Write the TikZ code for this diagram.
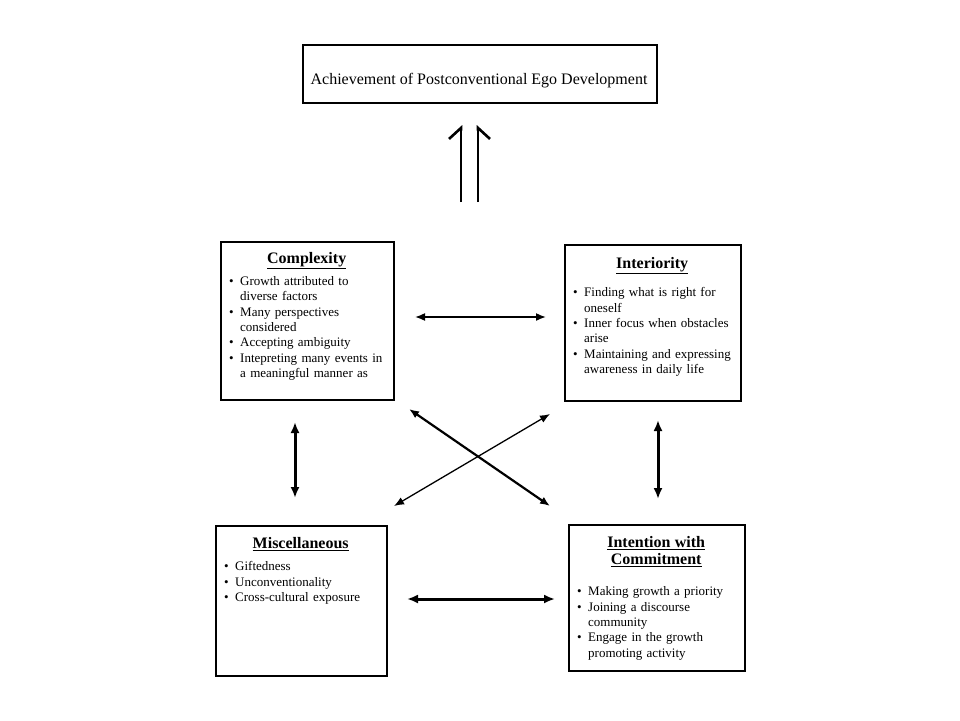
\documentclass[tikz,border=0pt]{standalone}
\usepackage{fontspec}
\setmainfont{Liberation Serif}
\usepackage{tikz}
\usetikzlibrary{arrows.meta}
\usetikzlibrary{positioning}
\usetikzlibrary{calc}

\tikzstyle{box} = [draw, line width=2pt, inner sep=0pt, anchor=north west]
\tikzstyle{boxtext} = [anchor=north west, inner sep=0pt, align=left, font=\fontsize{13}{15.4}\selectfont]
\tikzstyle{link} = [line width=1.6pt, {Latex[length=10pt,width=8pt]}-{Latex[length=10pt,width=8pt]}]
\tikzstyle{thicklink} = [line width=3pt, {Latex[length=11pt,width=9pt]}-{Latex[length=11pt,width=9pt]}]
\tikzstyle{uplink} = [line width=2.6pt]

\newcommand{\heading}[2]{{\centering\fontsize{16}{17.6}\selectfont\bfseries #1\par}\vspace{#2}}
\newcommand{\bitem}[1]{\par\hangindent=11pt\hangafter=1\noindent\makebox[11pt][l]{\textbullet}#1}

\begin{document}
\begin{tikzpicture}[x=1pt, y=-1pt]
\useasboundingbox (0,0) rectangle (960,720);

% boxes
\node[box, minimum width=354, minimum height=58] (goal) at (302,44) {};
\node[anchor=base, inner sep=0pt, font=\fontsize{16}{18}\selectfont] (goaltxt) at (479,84)
  {Achievement of Postconventional Ego Development};

\node[box, minimum width=173, minimum height=158] (cplx) at (220,241) {};
\node[boxtext, text width=155] (cplxtxt) at ($(cplx.north west)+(9,11)$) {%
  \heading{\underline{Complexity}}{6.6pt}%
  \bitem{Growth attributed to\newline diverse factors}
  \bitem{Many perspectives\newline considered}
  \bitem{Accepting ambiguity}
  \bitem{Intepreting many events in\newline a meaningful manner as}\par};

\node[box, minimum width=176, minimum height=156] (intr) at (564,244) {};
\node[boxtext, text width=158] (intrtxt) at ($(intr.north west)+(9,13)$) {%
  \heading{\underline{Interiority}}{13pt}%
  \bitem{Finding what is right for\newline oneself}
  \bitem{Inner focus when obstacles\newline arise}
  \bitem{Maintaining and expressing\newline awareness in daily life}\par};

\node[box, minimum width=171, minimum height=150] (misc) at (215,525) {};
\node[boxtext, text width=153] (misctxt) at ($(misc.north west)+(9,12)$) {%
  \heading{\underline{Miscellaneous}}{7.2pt}%
  \bitem{Giftedness}
  \bitem{Unconventionality}
  \bitem{Cross-cultural exposure}\par};

\node[box, minimum width=176, minimum height=146] (intn) at (568,524) {};
\node[boxtext, text width=158] (intntxt) at ($(intn.north west)+(9,12)$) {%
  \heading{\underline{Intention with}\\\underline{Commitment}}{15.3pt}%
  \bitem{Making growth a priority}
  \bitem{Joining a discourse\newline community}
  \bitem{Engage in the growth\newline promoting activity}\par};

% double arrow up to the goal
\coordinate (base) at (469.5,202);
\draw[uplink, -{Straight Barb[left, length=11pt, width=24pt]}]
  ($(base)+(-8.5,0)$) -- ($(base |- goal.south)+(-8.5,21)$);
\draw[uplink, -{Straight Barb[right, length=11pt, width=24pt]}]
  ($(base)+(8.5,0)$) -- ($(base |- goal.south)+(8.5,21)$);

% links between the boxes
\draw[link] ($(cplx.east)+(20,-4)$) -- ($(cplx.east -| intr.west)+(-18,-4)$);
\draw[thicklink] ($(misc.east)+(19,-2)$) -- ($(misc.east -| intn.west)+(-13,-2)$);
\draw[thicklink] ($(cplx.south)+(-12.5,21)$) -- ($(cplx.south |- misc.north)+(-12.5,-27)$);
\draw[thicklink] ($(intr.south)+(5,18)$) -- ($(intr.south |- intn.north)+(5,-25)$);
\draw[link, line width=2.2pt] ($(cplx.south east)+(14,8)$) -- ($(intn.north west)+(-18,-18)$);
\draw[link, line width=1.3pt] ($(intr.south west)+(-14,12)$) -- ($(misc.north east)+(6,-19)$);
\end{tikzpicture}
\end{document}
